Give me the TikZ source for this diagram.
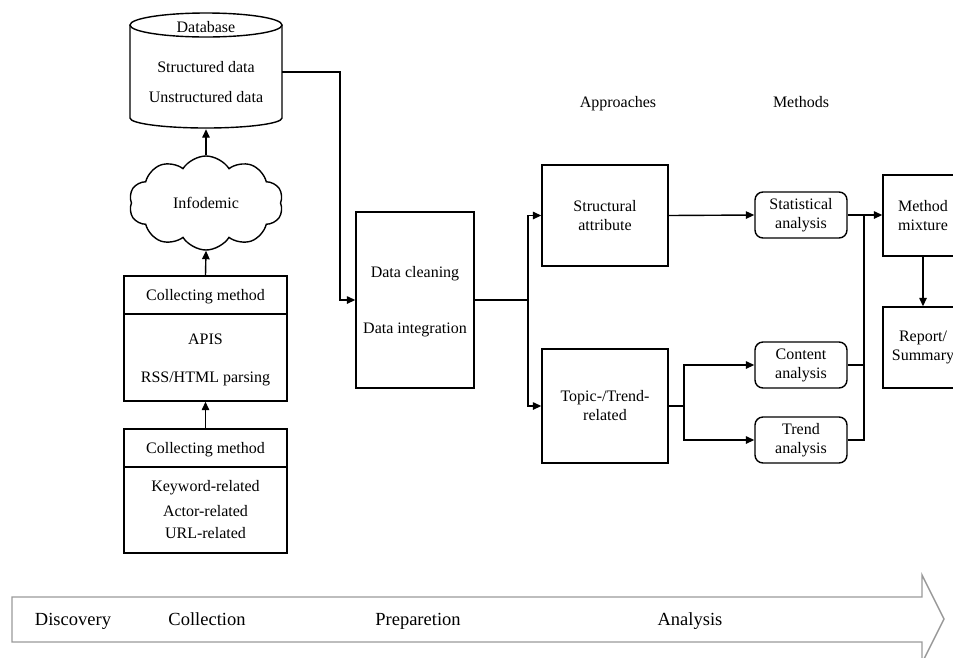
\documentclass[tikz,border=0pt]{standalone}
\usepackage{fontspec}
\setmainfont{Liberation Serif}
\usetikzlibrary{arrows.meta,shapes.symbols}

\tikzset{
  box/.style={draw, line width=1.4pt, inner sep=0pt},
  rbox/.style={box, rounded corners=8pt},
  lbl/.style={inner sep=0pt, font=\fontsize{16}{19}\selectfont, align=center},
  tline/.style={lbl, text height=13pt, text depth=3pt},
  phase/.style={inner sep=0pt, font=\fontsize{18.5}{22}\selectfont, text height=15pt, text depth=4pt},
  link/.style={line width=1.4pt},
  arr/.style={link, -{Triangle[length=8.5pt,width=7.5pt]}},
}

\begin{document}
\begin{tikzpicture}[x=1pt,y=-1pt]
\useasboundingbox (0,0) rectangle (953,657);
\clip (0,0) rectangle (953,657);

% ---------- database cylinder ----------
\draw[link] (130,25) -- (130,118) arc[start angle=180, end angle=360, x radius=76pt, y radius=10pt] -- (282,25);
\draw[link, fill=white] (206,25) ellipse[x radius=76pt, y radius=12pt];
\node[inner sep=0pt, minimum width=152pt, minimum height=115pt] (db) at (206,71.5) {};
\node[tline] (dbt) at (206,27) {Database};
\node[tline] (dbs) at (206,67) {Structured data};
\node[tline] (dbu) at (206,97) {Unstructured data};

% ---------- infodemic cloud ----------
\node[cloud, draw, line width=1.4pt, cloud puffs=10, cloud puff arc=115, cloud ignores aspect,
      minimum width=154pt, minimum height=94pt, inner sep=0pt] (cloud) at (206,203) {};
\node[tline] (cloudt) at (206,203) {Infodemic};

% ---------- collecting method boxes ----------
\node[box, minimum width=163pt, minimum height=125pt] (cm1) at (205.5,338.5) {};
\draw[link] (cm1.west |- 0,314) -- (cm1.east |- 0,314);
\node[tline] (cm1h) at (205.5,295) {Collecting method};
\node[tline] (cm1a) at (205.5,339) {APIS};
\node[tline] (cm1b) at (205.5,377) {RSS/HTML parsing};

\node[box, minimum width=163pt, minimum height=124pt] (cm2) at (205.5,491) {};
\draw[link] (cm2.west |- 0,467) -- (cm2.east |- 0,467);
\node[tline] (cm2h) at (205.5,448) {Collecting method};
\node[tline] (cm2a) at (205.5,486) {Keyword-related};
\node[tline] (cm2b) at (205.5,511) {Actor-related};
\node[tline] (cm2c) at (205.5,533) {URL-related};

% ---------- preparation ----------
\node[box, minimum width=118pt, minimum height=176pt] (data) at (415,300) {};
\node[tline] (data1) at (415,272) {Data cleaning};
\node[tline] (data2) at (415,328) {Data integration};

% ---------- approaches ----------
\node[tline] (apph) at (618,102) {Approaches};
\node[box, minimum width=126pt, minimum height=101pt, lbl] (struct) at (605,215.5) {Structural\\attribute};
\node[box, minimum width=126pt, minimum height=114pt, lbl] (topic) at (605,406) {Topic-/Trend-\\related};

% ---------- methods ----------
\node[tline] (meth) at (801,102) {Methods};
\node[rbox, minimum width=92pt, minimum height=46pt, lbl] (stats) at (801,215) {Statistical\\analysis};
\node[rbox, minimum width=92pt, minimum height=46pt, lbl] (content) at (801,365) {Content\\analysis};
\node[rbox, minimum width=92pt, minimum height=46pt, lbl] (trend) at (801,440) {Trend\\analysis};

% ---------- results ----------
\node[box, minimum width=80pt, minimum height=81pt, lbl] (mix) at (923,215.5) {Method\\mixture};
\node[box, minimum width=80pt, minimum height=81pt, lbl] (report) at (923,347.5) {Report/\\Summary};

% ---------- connectors ----------
\coordinate (dbout) at (282,72);
\coordinate (bend1) at (340,72);
\coordinate (split1) at (528,300);
\coordinate (split2) at (684,406);
\coordinate (merge) at (864,215);

\draw[arr] (cm2.north) -- (cm1.south);
\draw[arr] (cm1.north) -- (cloud.south);
\draw[arr] (cloud.north) -- (db.south);
\draw[arr] (dbout) -- (bend1) |- (data.west);

\draw[link] (data.east |- split1) -- (split1);
\draw[arr] (split1) |- (struct.west);
\draw[arr] (split1) |- (topic.west);

\draw[arr] (struct.east) -- (stats.west);
\draw[link] (topic.east) -- (split2);
\draw[arr] (split2) |- (content.west);
\draw[arr] (split2) |- (trend.west);

\draw[link] (stats.east) -- (merge);
\draw[link] (content.east) -| (merge);
\draw[link] (trend.east) -| (merge);
\draw[arr] (merge) -- (mix.west |- merge);
\draw[arr] (mix.south) -- (report.north);

% ---------- process arrow ----------
\draw[gray!80, line width=1.4pt, line join=miter]
  (12,597) -- (922,597) -- (922,575) -- (944,619) -- (922,663) -- (922,642) -- (12,642) -- cycle;
\node[phase] (ph1) at (73,620) {Discovery};
\node[phase] (ph2) at (207,620) {Collection};
\node[phase] (ph3) at (418,620) {Preparetion};
\node[phase] (ph4) at (690,620) {Analysis};
\end{tikzpicture}
\end{document}
